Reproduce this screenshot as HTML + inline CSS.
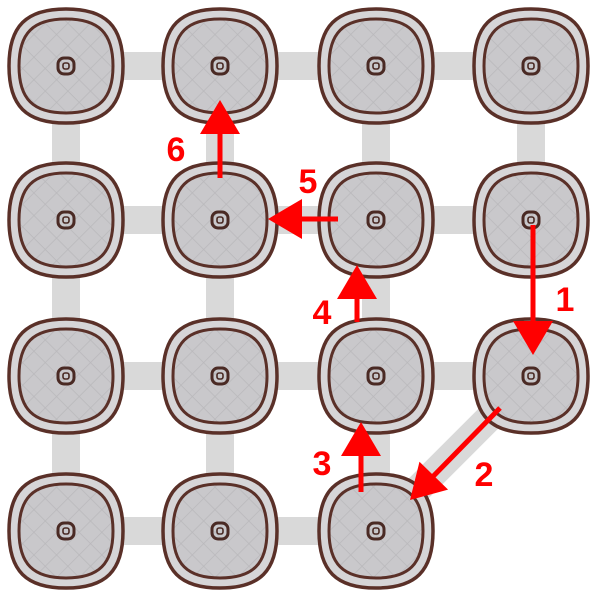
<!DOCTYPE html>
<html><head><meta charset="utf-8"><style>
html,body{margin:0;padding:0;background:#fff;}
svg{display:block;}
text{font-family:"Liberation Sans",sans-serif;font-weight:bold;fill:#ff0000;font-size:34px;}
</style></head><body>
<svg id="c" width="600" height="600" viewBox="0 0 600 600">
<defs>
<pattern id="hatch" width="16" height="16" patternUnits="userSpaceOnUse" patternTransform="rotate(45)">
<rect width="16" height="16" fill="#c9c8cb"/>
<line x1="0" y1="0" x2="0" y2="16" stroke="#b9b8bb" stroke-width="1.5"/>
<line x1="0" y1="0" x2="16" y2="0" stroke="#b9b8bb" stroke-width="1.5"/>
</pattern>
</defs>
<g id="links"></g><g id="nodes"></g><g id="arrows"></g>
</svg>
<script>
const cols=[66,220,376,531];
const rows=[66,220,376,531];
const nodes=[[0,0],[1,0],[2,0],[3,0],[0,1],[1,1],[2,1],[3,1],[0,2],[1,2],[2,2],[3,2],[0,3],[1,3],[2,3]];
const links=[[0,1],[1,2],[2,3],[4,5],[5,6],[6,7],[8,9],[9,10],[10,11],[12,13],[13,14],[0,4],[4,8],[8,12],[1,5],[5,9],[9,13],[2,6],[6,10],[10,14],[3,7],[11,14]];
// arrows: [x1,y1,x2,y2,label,lx,ly]
const arrows=[[533,225,533,355,"1",565,311],[500,408,410,500,"2",484,486],[361,492,361,422,"3",322,475],[357,322,357,265,"4",322,324],[338,219,268,219,"5",308,193],[220,178,220,100,"6",176,161]];
const NS="http://www.w3.org/2000/svg";
function mk(t,a,p){const e=document.createElementNS(NS,t);for(const k in a)e.setAttribute(k,a[k]);p.appendChild(e);return e;}
function sq(cx,cy,h){const k=0.7;return `M${cx-h},${cy} C${cx-h},${cy-h*k} ${cx-h*k},${cy-h} ${cx},${cy-h} C${cx+h*k},${cy-h} ${cx+h},${cy-h*k} ${cx+h},${cy} C${cx+h},${cy+h*k} ${cx+h*k},${cy+h} ${cx},${cy+h} C${cx-h*k},${cy+h} ${cx-h},${cy+h*k} ${cx-h},${cy} Z`;}
const L=document.getElementById('links'),N=document.getElementById('nodes'),A=document.getElementById('arrows');
links.forEach(l=>{const a=nodes[l[0]],b=nodes[l[1]];
const e=mk('line',{x1:cols[a[0]],y1:rows[a[1]],x2:cols[b[0]],y2:rows[b[1]],stroke:'#d9d9d9','stroke-width':28},L);

});
nodes.forEach(n=>{const cx=cols[n[0]],cy=rows[n[1]];
const g=mk('g',{},N);


mk('path',{d:sq(cx,cy,57),fill:'#d6d5d7',stroke:'#5a3028','stroke-width':3.5},g);
mk('path',{d:sq(cx,cy,47),fill:'url(#hatch)',stroke:'#5a3028','stroke-width':3},g);
mk('rect',{x:cx-8,y:cy-8,width:16,height:16,rx:6,fill:'none',stroke:'#4a2a24','stroke-width':3},g);
mk('rect',{x:cx-3,y:cy-3,width:6,height:6,rx:2,fill:'none',stroke:'#4a2a24','stroke-width':1.6},g);});
arrows.forEach(r=>{const [x1,y1,x2,y2,lab,lx,ly]=r;const dx=x2-x1,dy=y2-y1,len=Math.hypot(dx,dy),ux=dx/len,uy=dy/len;
const hl=34,hw=20;const bx=x2-ux*hl,by=y2-uy*hl;
const g=mk('g',{},A);


mk('line',{x1:x1,y1:y1,x2:bx+ux*2,y2:by+uy*2,stroke:'#ff0000','stroke-width':5},g);
mk('polygon',{points:`${x2},${y2} ${bx-uy*hw},${by+ux*hw} ${bx+uy*hw},${by-ux*hw}`,fill:'#ff0000'},g);
const t=mk('text',{x:lx,y:ly,'text-anchor':'middle'},A);t.textContent=lab;

});
</script>
</body></html>
